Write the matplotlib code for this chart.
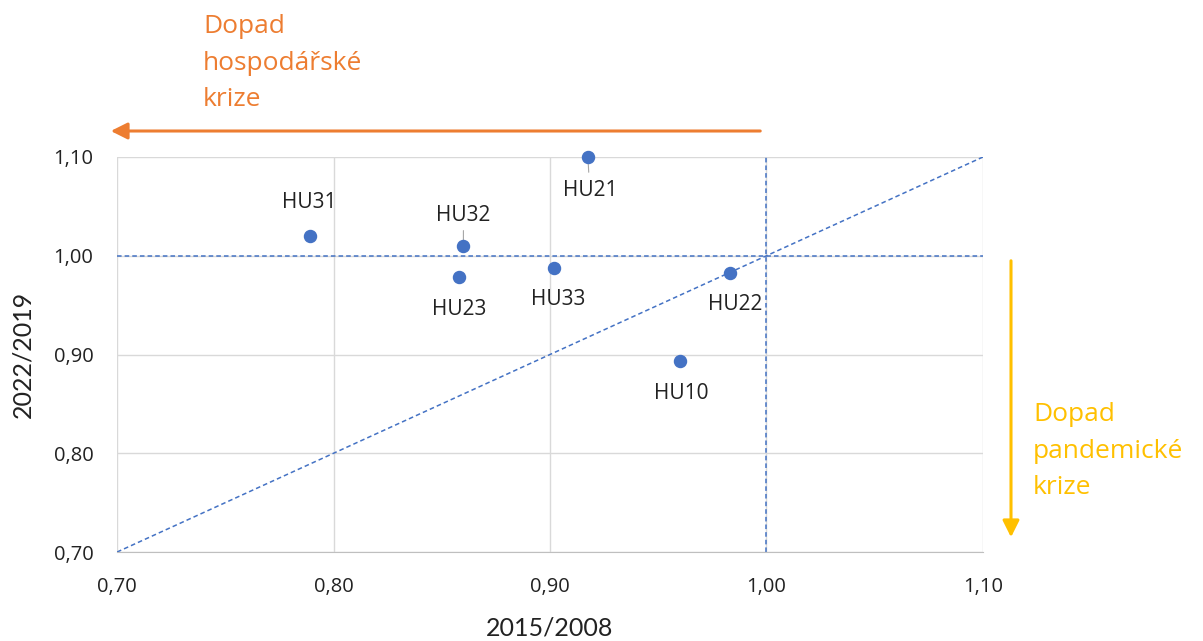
import matplotlib
matplotlib.use("Agg")
import matplotlib.pyplot as plt
from matplotlib.patches import FancyArrowPatch
from matplotlib.ticker import FuncFormatter

regions = ["HU31", "HU32", "HU23", "HU33", "HU21", "HU22", "HU10"]
x_vals = [0.789, 0.860, 0.858, 0.902, 0.9175, 0.983, 0.960]
y_vals = [1.020, 1.010, 0.978, 0.988, 1.100, 0.9825, 0.893]
# label offsets (points)
label_dx = [0, 0, 0, 3, 2, 4, 1]
label_dy = [24, 22, -23, -23, -24, -23, -23]
leaders = ["HU32", "HU21"]

ticks = [0.70, 0.80, 0.90, 1.00, 1.10]

blue = "#4472C4"
orange = "#ED7D31"
yellow = "#FFC000"
sans = ["Open Sans", "DejaVu Sans"]
narrow = ["Lato", "DejaVu Sans"]

fig = plt.figure(figsize=(12.03, 6.41), dpi=100)
ax = fig.add_axes([0.0973, 0.1388, 0.7198, 0.6163])
ax.set_xlim(0.70, 1.10)
ax.set_ylim(0.70, 1.10)
ax.set_xticks(ticks)
ax.set_yticks(ticks)
fmt = FuncFormatter(lambda v, p: f"{v:.2f}".replace(".", ","))
ax.xaxis.set_major_formatter(fmt)
ax.yaxis.set_major_formatter(fmt)
ax.grid(True, color="#D9D9D9", linewidth=1)
ax.set_axisbelow(True)
for s in ["top", "right", "left"]:
    ax.spines[s].set_visible(False)
ax.spines["bottom"].set_color("#BFBFBF")
ax.tick_params(length=0, labelsize=14.5, colors="#222222")
ax.tick_params(axis="x", pad=18)
ax.tick_params(axis="y", pad=17)
for lab in ax.get_xticklabels() + ax.get_yticklabels():
    lab.set_family(sans)

ax.plot([0.70, 1.10], [0.70, 1.10], ls=(0, (3, 2)), color=blue, lw=1.1, zorder=2)
ax.axhline(1.00, ls=(0, (3, 2)), color=blue, lw=1.1, zorder=2)
ax.axvline(1.00, ls=(0, (3, 2)), color=blue, lw=1.1, zorder=2)

ax.scatter(x_vals, y_vals, s=75, color=blue, zorder=4, clip_on=False)
for name, x, y, dx, dy in zip(regions, x_vals, y_vals, label_dx, label_dy):
    ax.annotate(name, (x, y), xytext=(dx, dy), textcoords="offset points",
                ha="center", va="center", fontsize=15, color="#222222",
                family=sans, zorder=5)
    if name in leaders:
        sgn = 1 if dy > 0 else -1
        ax.annotate("", (x, y), xytext=(dx * 0.3, sgn * 11), textcoords="offset points",
                    arrowprops=dict(arrowstyle="-", color="#A6A6A6", lw=0.8,
                                    shrinkA=0, shrinkB=0), zorder=3)

ax.set_xlabel("2015/2008", fontsize=18, family=narrow, color="#222222", labelpad=14)
ax.set_ylabel("2022/2019", fontsize=18, family=narrow, color="#222222", labelpad=14)

W, H = 1203, 641
fig.add_artist(FancyArrowPatch(
    (763 / W, 1 - 131 / H), (108 / W, 1 - 131 / H), transform=fig.transFigure,
    arrowstyle="-|>,head_length=10,head_width=5", color=orange, lw=2.2, mutation_scale=1))
fig.add_artist(FancyArrowPatch(
    (1011 / W, 1 - 258 / H), (1011 / W, 1 - 540 / H), transform=fig.transFigure,
    arrowstyle="-|>,head_length=10,head_width=5", color=yellow, lw=2.2, mutation_scale=1))

fig.text(203 / W, 1 - 63 / H, "Dopad\nhospodářské\nkrize", color=orange, fontsize=19,
         family=sans, ha="left", va="center", linespacing=1.62)
fig.text(1033 / W, 1 - 451 / H, "Dopad\npandemické\nkrize", color=yellow, fontsize=19,
         family=sans, ha="left", va="center", linespacing=1.62)

fig.savefig("out.png", dpi=100)
